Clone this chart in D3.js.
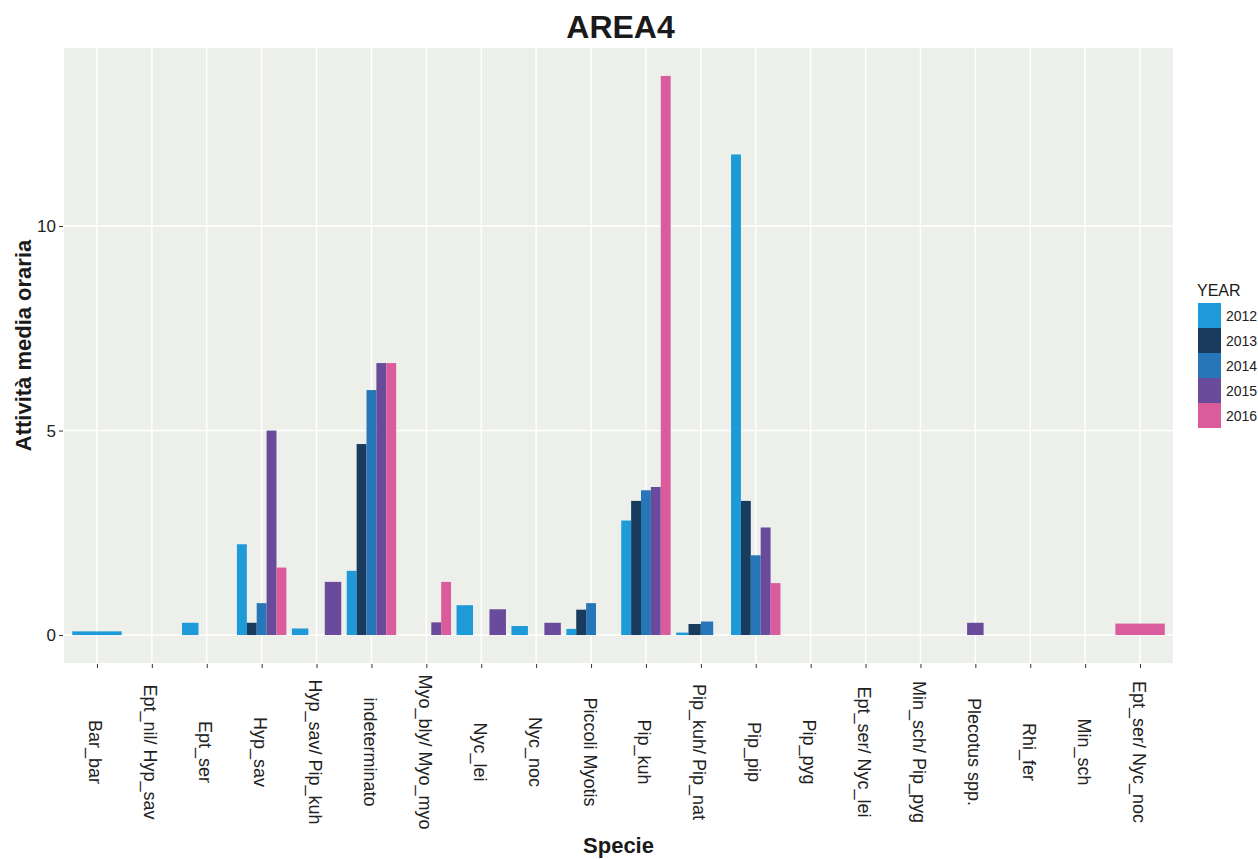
<!DOCTYPE html>
<html>
<head>
<meta charset="utf-8">
<script src="https://cdn.jsdelivr.net/npm/d3@7"></script>
<style>
  html, body { margin: 0; padding: 0; background: #ffffff; }
  svg { display: block; font-family: "Liberation Sans", Arial, Helvetica, sans-serif; }
</style>
</head>
<body>
<svg id="chart" width="1258" height="859"></svg>
<script>
// ---------- DATA ----------
const categories = [
  "Bar_bar", "Ept_nil/ Hyp_sav", "Ept_ser", "Hyp_sav", "Hyp_sav/ Pip_kuh",
  "indeterminato", "Myo_bly/ Myo_myo", "Nyc_lei", "Nyc_noc", "Piccoli Myotis",
  "Pip_kuh", "Pip_kuh/ Pip_nat", "Pip_pip", "Pip_pyg", "Ept_ser/ Nyc_lei",
  "Min_sch/ Pip_pyg", "Plecotus spp.", "Rhi_fer", "Min_sch", "Ept_ser/ Nyc_noc"
];
const years = ["2012", "2013", "2014", "2015", "2016"];
// null = year not recorded for that species (no dodge slot); 0 = recorded, zero activity
const v2012 = [0.09, null, 0.30, 2.22, 0.16, 1.57, 0,    0.73, 0.22, 0.15, 2.80, 0.06, 11.75, null, null, null, null, null, null, null];
const v2013 = [null, null, 0,    0.30, null, 4.67, 0,    null, null, 0.62, 3.28, 0.27, 3.28,  null, null, null, null, null, null, null];
const v2014 = [null, null, 0,    0.78, 0,    5.99, 0,    0,    0,    0.78, 3.54, 0.33, 1.95,  null, null, null, 0,    null, null, null];
const v2015 = [null, null, null, 5.00, 1.30, 6.65, 0.31, 0.63, 0.30, 0,    3.62, 0,    2.63,  null, null, null, 0.30, null, null, null];
const v2016 = [null, null, null, 1.65, null, 6.65, 1.30, null, null, 0,    13.67, null, 1.27, null, null, null, 0,    null, null, 0.28];
const yTicks = [0, 5, 10];
const yearColors = ["#1f9ad8", "#183b5e", "#2776b8", "#6a4b9b", "#da5c9d"];
const seriesValues = [v2012, v2013, v2014, v2015, v2016];

// ---------- LAYOUT ----------
const svg = d3.select("#chart");
const panel = { left: 64, right: 1173, top: 48, bottom: 663 };

// build rows with ggplot-style dodge slots (rank among present years)
const rows = [];
categories.forEach((cat, ci) => {
  const present = years.map((y, yi) => ({ year: y, yi, value: seriesValues[yi][ci] }))
                       .filter(d => d.value !== null);
  present.forEach((d, k) => rows.push({ cat, year: d.year, yi: d.yi, value: d.value, slot: k, n: present.length }));
});

const x = d3.scalePoint().domain(categories).range([panel.left, panel.right]).padding(0.6);
const step = x.step();
const bandW = step * 0.9;

const maxV = d3.max(rows, d => d.value);
const expand = maxV * 0.05;
const y = d3.scaleLinear().domain([0 - expand, maxV + expand]).range([panel.bottom, panel.top]);

const color = d3.scaleOrdinal().domain(years).range(yearColors);

// panel background
svg.append("rect")
  .attr("x", panel.left).attr("y", panel.top)
  .attr("width", panel.right - panel.left).attr("height", panel.bottom - panel.top)
  .attr("fill", "#edefeb");

// gridlines
const grid = svg.append("g");
grid.selectAll("line.gy").data(yTicks).join("line")
  .attr("x1", panel.left).attr("x2", panel.right)
  .attr("y1", d => y(d)).attr("y2", d => y(d))
  .attr("stroke", "#ffffff").attr("stroke-width", 1.5);
grid.selectAll("line.gx").data(categories).join("line")
  .attr("x1", d => x(d)).attr("x2", d => x(d))
  .attr("y1", panel.top).attr("y2", panel.bottom)
  .attr("stroke", "#ffffff").attr("stroke-width", 1.5);

// bars
svg.append("g").selectAll("rect").data(rows).join("rect")
  .attr("x", d => x(d.cat) - bandW / 2 + d.slot * bandW / d.n)
  .attr("width", d => bandW / d.n)
  .attr("y", d => y(d.value))
  .attr("height", d => y(0) - y(d.value))
  .attr("fill", d => color(d.year));

// y axis
const yAxis = d3.axisLeft(y).tickValues(yTicks).tickSize(4).tickPadding(3).tickFormat(d3.format("d"));
const gy = svg.append("g").attr("transform", `translate(${panel.left - 1},0)`).call(yAxis);
gy.select(".domain").remove();
gy.selectAll(".tick line").attr("stroke", "#333").attr("stroke-width", 1);
gy.selectAll(".tick text").attr("fill", "#222").style("font-size", "17px")
  .style("font-family", "Liberation Sans, Arial, sans-serif");

// x axis
const xAxis = d3.axisBottom(x).tickSize(4).tickPadding(0);
const gx = svg.append("g").attr("transform", `translate(0,${panel.bottom + 1})`).call(xAxis);
gx.select(".domain").remove();
gx.selectAll(".tick line").attr("stroke", "#333").attr("stroke-width", 1);
gx.selectAll(".tick text")
  .attr("fill", "#222")
  .style("font-size", "18px")
  .style("font-family", "Liberation Sans, Arial, sans-serif")
  .attr("text-anchor", "middle")
  .attr("dy", null)
  .attr("transform", "translate(-2,88) rotate(90)")
  .attr("x", 0).attr("y", 0)
  .attr("dominant-baseline", "central");

// title
svg.append("text")
  .attr("x", (panel.left + panel.right) / 2 + 2).attr("y", 38)
  .attr("text-anchor", "middle")
  .style("font-size", "32px").style("font-weight", "bold").attr("fill", "#1a1a1a")
  .text("AREA4");

// axis titles
svg.append("text")
  .attr("x", (panel.left + panel.right) / 2).attr("y", 853)
  .attr("text-anchor", "middle")
  .style("font-size", "22px").style("font-weight", "bold").attr("fill", "#1a1a1a")
  .text("Specie");

svg.append("text")
  .attr("transform", `translate(31,${(panel.top + panel.bottom) / 2 - 10}) rotate(-90)`)
  .attr("text-anchor", "middle")
  .style("font-size", "22px").style("font-weight", "bold").attr("fill", "#1a1a1a")
  .text("Attività media oraria");

// legend
const lg = svg.append("g").attr("transform", "translate(1197,0)");
lg.append("text").attr("x", 0).attr("y", 296)
  .style("font-size", "16px").attr("fill", "#1a1a1a").text("YEAR");
const keyH = 25;
const items = lg.selectAll("g.item").data(years).join("g")
  .attr("transform", (d, i) => `translate(0,${303 + i * keyH})`);
items.append("rect").attr("x", 1).attr("y", 0).attr("width", 23).attr("height", keyH)
  .attr("fill", d => color(d));
items.append("text").attr("x", 29).attr("y", keyH / 2 + 5)
  .style("font-size", "14px").attr("fill", "#222").text(d => d);
</script>
</body>
</html>
